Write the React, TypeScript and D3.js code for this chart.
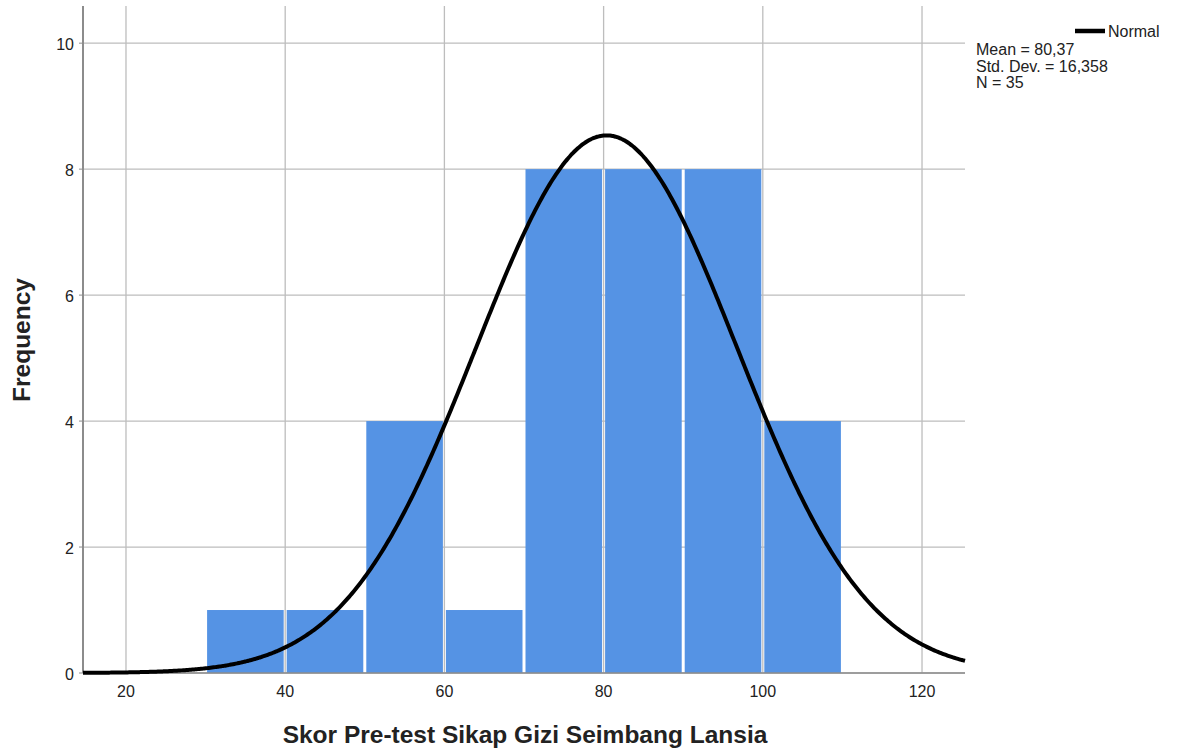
import React from "react";
import * as d3 from "d3";

const binStarts = [30, 40, 50, 60, 70, 80, 90, 100];
const binWidth = 10;
const frequencies = [1, 1, 4, 1, 8, 8, 8, 4];
const xTicks = [20, 40, 60, 80, 100, 120];
const yTicks = [0, 2, 4, 6, 8, 10];
const mean = 80.37;
const sd = 16.358;
const n = 35;
const statsLines = ["Mean = 80,37", "Std. Dev. = 16,358", "N = 35"];

const W = 1178;
const H = 753;
const left = 83;
const right = 965;
const top = 6;
const bottom = 673;

export default function App() {
  const x = d3.scaleLinear().domain([14.6, 125.4]).range([left, right]);
  const y = d3.scaleLinear().domain([0, 10.59]).range([bottom, top]);
  const pdf = (v: number) =>
    (n * binWidth) / (sd * Math.sqrt(2 * Math.PI)) * Math.exp(-0.5 * ((v - mean) / sd) ** 2);
  const pts = d3.range(14.6, 125.41, 0.2).map((v) => [v, pdf(v)] as [number, number]);
  const line = d3.line<[number, number]>().x((d) => x(d[0])).y((d) => y(d[1])).curve(d3.curveBasis);
  const font = "'Liberation Sans', Arial, sans-serif";
  return (
    <svg width={W} height={H} style={{ position: "absolute", left: 0, top: 0, background: "#fff" }}>
      <g>
        {xTicks.map((t) => (
          <line key={"gx" + t} x1={x(t)} x2={x(t)} y1={top} y2={bottom} stroke="#bdbdbd" strokeWidth={1.3} />
        ))}
        {yTicks.map((t) => (
          <line key={"gy" + t} x1={left} x2={right} y1={y(t)} y2={y(t)} stroke="#bdbdbd" strokeWidth={1.3} />
        ))}
      </g>
      <g>
        {binStarts.map((b, i) => (
          <rect
            key={"b" + b}
            x={x(b) + 1.5}
            y={y(frequencies[i])}
            width={x(b + binWidth) - x(b) - 3}
            height={bottom - y(frequencies[i])}
            fill="#5593e4"
          />
        ))}
      </g>
      <line x1={left} x2={left} y1={top} y2={bottom} stroke="#8c8c8c" strokeWidth={2} />
      <line x1={left} x2={right} y1={bottom} y2={bottom} stroke="#8c8c8c" strokeWidth={1.5} />
      <path d={line(pts) || ""} fill="none" stroke="#000" strokeWidth={4} />
      <g fontFamily={font} fontSize={16} fill="#222">
        {yTicks.map((t) => (
          <g key={"yt" + t}>
            <line x1={left - 4} x2={left} y1={y(t)} y2={y(t)} stroke="#8c8c8c" strokeWidth={1} />
            <text x={74} y={y(t) + 7} textAnchor="end">{t}</text>
          </g>
        ))}
        {xTicks.map((t) => (
          <text key={"xt" + t} x={x(t)} y={697} textAnchor="middle">{t}</text>
        ))}
      </g>
      <text x={525} y={743} textAnchor="middle" fontFamily={font} fontWeight="bold" fontSize={24.5} fill="#222">
        Skor Pre-test Sikap Gizi Seimbang Lansia
      </text>
      <text
        transform={`translate(30,340) rotate(-90)`}
        textAnchor="middle"
        fontFamily={font}
        fontWeight="bold"
        fontSize={24.5}
        fill="#222"
      >
        Frequency
      </text>
      <line x1={1075} x2={1105} y1={31} y2={31} stroke="#000" strokeWidth={4.5} />
      <text x={1108} y={37} fontFamily={font} fontSize={16} fill="#222">Normal</text>
      <g fontFamily={font} fontSize={16} fill="#222">
        {statsLines.map((s, i) => (
          <text key={s} x={976} y={55 + i * 16.5}>{s}</text>
        ))}
      </g>
    </svg>
  );
}
